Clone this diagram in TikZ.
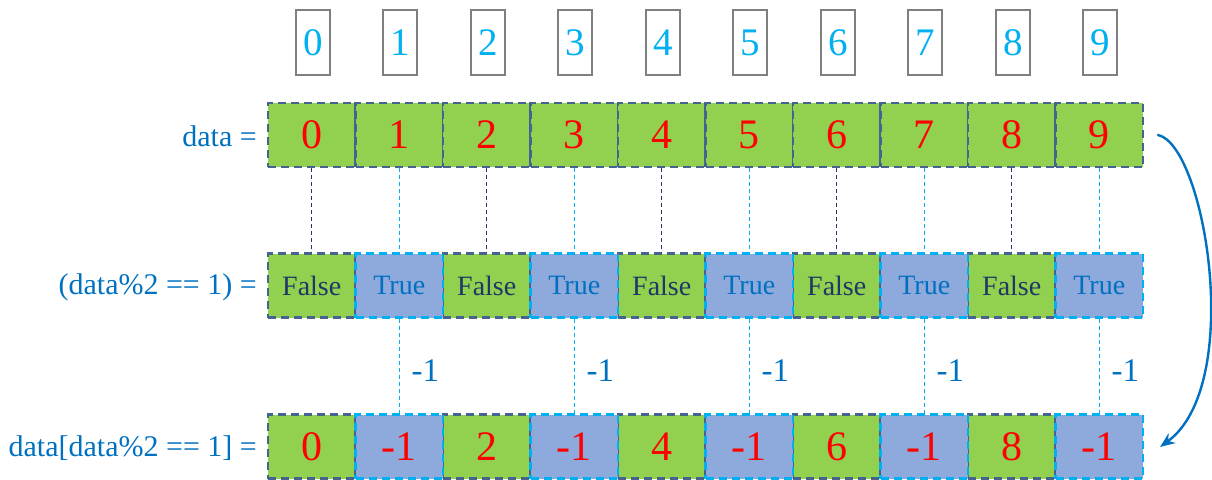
\documentclass[tikz,border=0pt]{standalone}
\usepackage{fontspec}
\setmainfont{Liberation Serif}
\newfontfamily\tms{Liberation Serif}
\usetikzlibrary{arrows.meta,calc}
\definecolor{cgreen}{HTML}{92D050}
\definecolor{cblue}{HTML}{8EA9DB}
\definecolor{cslate}{HTML}{44648F}
\definecolor{csky}{HTML}{00B0F0}
\definecolor{cnavy}{HTML}{1F3864}
\definecolor{clab}{HTML}{0070C0}
\definecolor{cred}{HTML}{FF0000}
\definecolor{cgray}{HTML}{7F7F7F}
\tikzset{
  cellbase/.style={minimum width=87.5pt, minimum height=64pt, inner sep=0pt, line width=2.2pt, dash pattern=on 8pt off 5pt},
  gcell/.style={cellbase, fill=cgreen, draw=cslate},
  bcell/.style={cellbase, fill=cblue, draw=csky},
  idxbox/.style={draw=cgray, line width=1.6pt, minimum width=34pt, minimum height=65pt, inner sep=0pt, text=csky, font=\tms\fontsize{39}{39}\selectfont},
  num/.style={text=cred, font=\tms\fontsize{42}{42}\selectfont},
  ftxt/.style={text=cnavy, font=\tms\fontsize{28}{28}\selectfont},
  ttxt/.style={text=clab, font=\tms\fontsize{28}{28}\selectfont},
  lbl/.style={text=clab, anchor=east, inner sep=0pt, font=\tms\fontsize{30}{30}\selectfont},
  mlbl/.style={text=clab, inner sep=0pt, font=\tms\fontsize{33}{33}\selectfont},
  darkconn/.style={draw=cnavy, line width=0.9pt, dash pattern=on 4pt off 3pt},
  lightconn/.style={draw=csky, line width=0.9pt, dash pattern=on 4pt off 3pt},
  bigarrow/.style={draw=clab, line width=2.4pt, line cap=round, -{Stealth[length=15pt,width=12pt]}}
}
\begin{document}
\begin{tikzpicture}[x=1pt,y=-1pt]
\useasboundingbox (0,0) rectangle (1212,479);
% labels
\node[lbl] (l1) at (257,136) {data =};
\node[lbl] (l2) at (257,287) {(data\%2 == 1) =};
\node[lbl] (l3) at (257,448) {data[data\%2 == 1] =};
% green cells first
\foreach \i in {0,...,9} {
  \pgfmathsetmacro{\cx}{311.75+87.5*\i}
  \node[idxbox] (i\i) at (\cx+1,42.5) {\i};
  \node[gcell] (a\i) at (\cx,135) {};
}
\foreach \i in {0,2,4,6,8} {
  \pgfmathsetmacro{\cx}{311.75+87.5*\i}
  \node[gcell, ftxt] (b\i) at (\cx,285.5) {False};
  \node[gcell, num] (c\i) at (\cx,446.5) {\i};
}
\foreach \i in {1,3,5,7,9} {
  \pgfmathsetmacro{\cx}{311.75+87.5*\i}
  \node[bcell, ttxt] (b\i) at (\cx,285.5) {True};
  \node[bcell, num] (c\i) at (\cx,446.5) {-1};
}
% numbers in row 1 on top
\foreach \i in {0,...,9} {
  \node[num] at (a\i) {\i};
}
% connectors
\foreach \i in {0,2,4,6,8} {
  \draw[darkconn] (a\i.south) -- (b\i.north);
}
\foreach \i in {1,3,5,7,9} {
  \draw[lightconn] (a\i.south) -- (b\i.north);
  \draw[lightconn] (b\i.south) -- (c\i.north);
  \node[mlbl] (m\i) at ([xshift=26pt,yshift=-5pt]$(b\i.south)!0.5!(c\i.north)$) {-1};
}
% big arrow
\coordinate (arrS) at (1158,135);
\coordinate (arrE) at (1160,447);
\draw[bigarrow] (arrS) .. controls (1205,145) and (1245,385) .. (arrE);
\end{tikzpicture}
\end{document}
